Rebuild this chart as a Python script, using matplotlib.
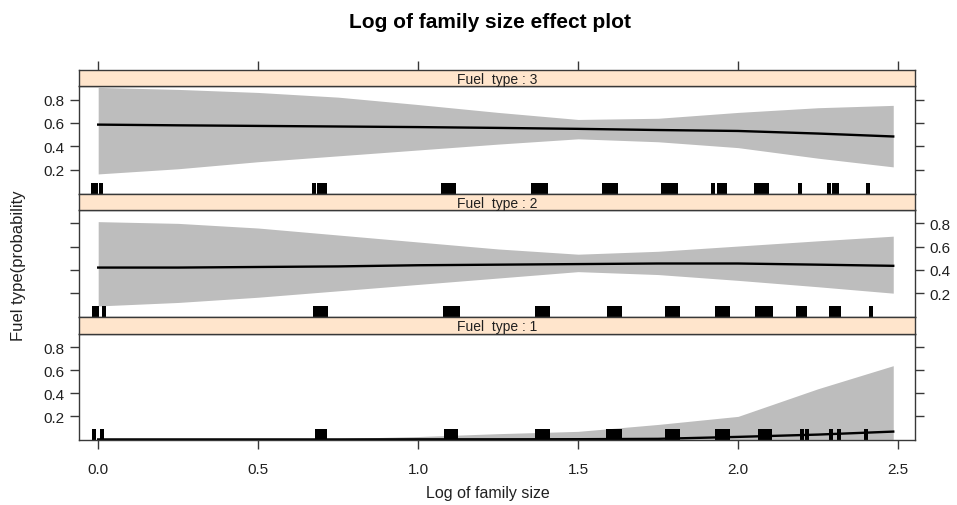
import matplotlib
matplotlib.use('Agg')
import matplotlib.pyplot as plt

plt.rcParams['font.family'] = ['Liberation Sans', 'DejaVu Sans']

# effect estimates on a grid of log(family size)
x_grid = [0.0, 0.25, 0.5, 0.75, 1.0, 1.25, 1.5, 1.75, 2.0, 2.25, 2.485]

fit_3 = [0.586, 0.58, 0.575, 0.57, 0.565, 0.558, 0.55, 0.54, 0.532, 0.51, 0.485]
low_3 = [0.166, 0.21, 0.27, 0.32, 0.37, 0.42, 0.465, 0.44, 0.39, 0.30, 0.226]
upp_3 = [0.903, 0.886, 0.86, 0.82, 0.757, 0.69, 0.63, 0.64, 0.69, 0.73, 0.75]

fit_2 = [0.42, 0.42, 0.425, 0.43, 0.44, 0.445, 0.45, 0.455, 0.455, 0.445, 0.435]
low_2 = [0.09, 0.12, 0.165, 0.22, 0.275, 0.33, 0.385, 0.36, 0.31, 0.255, 0.20]
upp_2 = [0.815, 0.80, 0.76, 0.70, 0.64, 0.58, 0.535, 0.56, 0.605, 0.65, 0.69]

fit_1 = [0.0, 0.0, 0.0, 0.0, 0.001, 0.001, 0.002, 0.005, 0.022, 0.042, 0.068]
low_1 = [0.0, 0.0, 0.0, 0.0, 0.0, 0.0, 0.0, 0.0, 0.0, 0.0, 0.0]
upp_1 = [0.0, 0.001, 0.003, 0.008, 0.025, 0.05, 0.07, 0.13, 0.2, 0.44, 0.64]

# jittered observations (rug)
rug_3 = [-0.015, -0.006, 0.008,
         0.673, 0.690, 0.695, 0.700, 0.705, 0.710,
         1.078, 1.083, 1.088, 1.093, 1.098, 1.103, 1.108, 1.113,
         1.360, 1.365, 1.370, 1.375, 1.380, 1.385, 1.390, 1.395, 1.400,
         1.580, 1.585, 1.590, 1.595, 1.600, 1.605, 1.610, 1.615, 1.620,
         1.766, 1.771, 1.776, 1.781, 1.786, 1.791, 1.796, 1.801, 1.806,
         1.922, 1.940, 1.945, 1.950, 1.955, 1.960,
         2.056, 2.061, 2.066, 2.071, 2.076, 2.081, 2.086, 2.090,
         2.195, 2.283, 2.300, 2.305, 2.310, 2.405]
rug_2 = [-0.014, -0.004, 0.019,
         0.679, 0.684, 0.688, 0.697, 0.702, 0.707, 0.712,
         1.085, 1.090, 1.095, 1.100, 1.105, 1.110, 1.115, 1.120, 1.125,
         1.370, 1.375, 1.380, 1.385, 1.390, 1.400, 1.405,
         1.597, 1.602, 1.607, 1.612, 1.617, 1.622, 1.627, 1.632,
         1.778, 1.783, 1.788, 1.793, 1.798, 1.803, 1.808, 1.813,
         1.934, 1.939, 1.944, 1.949, 1.954, 1.959, 1.964, 1.969,
         2.060, 2.065, 2.070, 2.075, 2.080, 2.085, 2.090, 2.103,
         2.187, 2.200, 2.210, 2.290, 2.303, 2.316, 2.416]
rug_1 = [-0.014, 0.011,
         0.684, 0.696, 0.709,
         1.088, 1.093, 1.098, 1.103, 1.108, 1.113, 1.118,
         1.372, 1.377, 1.382, 1.387, 1.392, 1.397, 1.402, 1.406,
         1.594, 1.599, 1.604, 1.609, 1.614, 1.619, 1.624, 1.630,
         1.778, 1.783, 1.788, 1.793, 1.798, 1.803, 1.808, 1.813,
         1.934, 1.939, 1.944, 1.949, 1.954, 1.959, 1.964, 1.969,
         2.069, 2.074, 2.079, 2.084, 2.089, 2.094, 2.100,
         2.200, 2.216, 2.290, 2.316, 2.400]

strip_labels = ['Fuel  type : 3', 'Fuel  type : 2', 'Fuel  type : 1']
x_ticks = [0.0, 0.5, 1.0, 1.5, 2.0, 2.5]
x_ticklabels = ['0.0', '0.5', '1.0', '1.5', '2.0', '2.5']
y_ticks = [0.2, 0.4, 0.6, 0.8]
y_ticklabels = ['0.2', '0.4', '0.6', '0.8']

panels = [(fit_3, low_3, upp_3, rug_3),
          (fit_2, low_2, upp_2, rug_2),
          (fit_1, low_1, upp_1, rug_1)]

W_PX, H_PX = 957, 506
left, right = 79, 915
# (strip top, panel top, panel bottom) in pixels
rows = [(71, 87, 195), (195, 211, 318), (318, 335, 441)]

frame_col = '#383838'
text_col = '#202020'
xlim = (-0.06, 2.553)
ylim = (-0.005, 0.915)

fig = plt.figure(figsize=(W_PX / 100, H_PX / 100), dpi=100)

for i, ((fit, low, upp, rug), (st, pt, pb)) in enumerate(zip(panels, rows)):
    ax = fig.add_axes([left / W_PX, 1 - pb / H_PX, (right - left) / W_PX, (pb - pt) / H_PX])
    sax = fig.add_axes([left / W_PX, 1 - pt / H_PX, (right - left) / W_PX, (pt - st) / H_PX])

    ax.fill_between(x_grid, low, upp, color='#bdbdbd', lw=0)
    ax.plot(x_grid, fit, color='black', lw=1.7)
    ax.vlines(rug, 0, 0.1, transform=ax.get_xaxis_transform(), color='black', lw=1.5,
              antialiased=False)

    ax.set_xlim(*xlim)
    ax.set_ylim(*ylim)
    ax.set_yticks(y_ticks)
    ax.set_yticklabels(y_ticklabels)
    ax.tick_params(axis='y', left=True, right=True, labelleft=(i != 1), labelright=(i == 1),
                   direction='out', length=6.5, width=1, color=frame_col, labelcolor=text_col,
                   labelsize=11, pad=4)
    ax.set_xticks(x_ticks)
    if i == 2:
        ax.set_xticklabels(x_ticklabels)
        ax.tick_params(axis='x', bottom=True, top=False, direction='out', length=6.5, width=1,
                       color=frame_col, labelcolor=text_col, labelsize=11, pad=9)
    else:
        ax.tick_params(axis='x', bottom=False, top=False, labelbottom=False)
    for s in ax.spines.values():
        s.set_color(frame_col)
        s.set_linewidth(1)

    sax.set_facecolor('#ffe5cc')
    sax.set_xlim(*xlim)
    sax.set_yticks([])
    sax.set_xticks(x_ticks)
    if i == 0:
        sax.tick_params(axis='x', top=True, bottom=False, labeltop=False, labelbottom=False,
                        direction='out', length=6.5, width=1, color=frame_col)
    else:
        sax.tick_params(axis='x', top=False, bottom=False, labeltop=False, labelbottom=False)
    for s in sax.spines.values():
        s.set_color(frame_col)
        s.set_linewidth(1)
    sax.text(0.5, 0.45, strip_labels[i], transform=sax.transAxes, ha='center', va='center',
             fontsize=10, color=text_col)

fig.text(490 / W_PX, 1 - 22 / H_PX, 'Log of family size effect plot', ha='center', va='center',
         fontsize=15, fontweight='bold', color='black')
fig.text(488 / W_PX, 1 - 494 / H_PX, 'Log of family size', ha='center', va='center',
         fontsize=11.5, color=text_col)
fig.text(19 / W_PX, 1 - 266 / H_PX, 'Fuel type(probability', ha='center', va='center',
         rotation=90, fontsize=12, color=text_col)

plt.savefig('out.png', dpi=100)
